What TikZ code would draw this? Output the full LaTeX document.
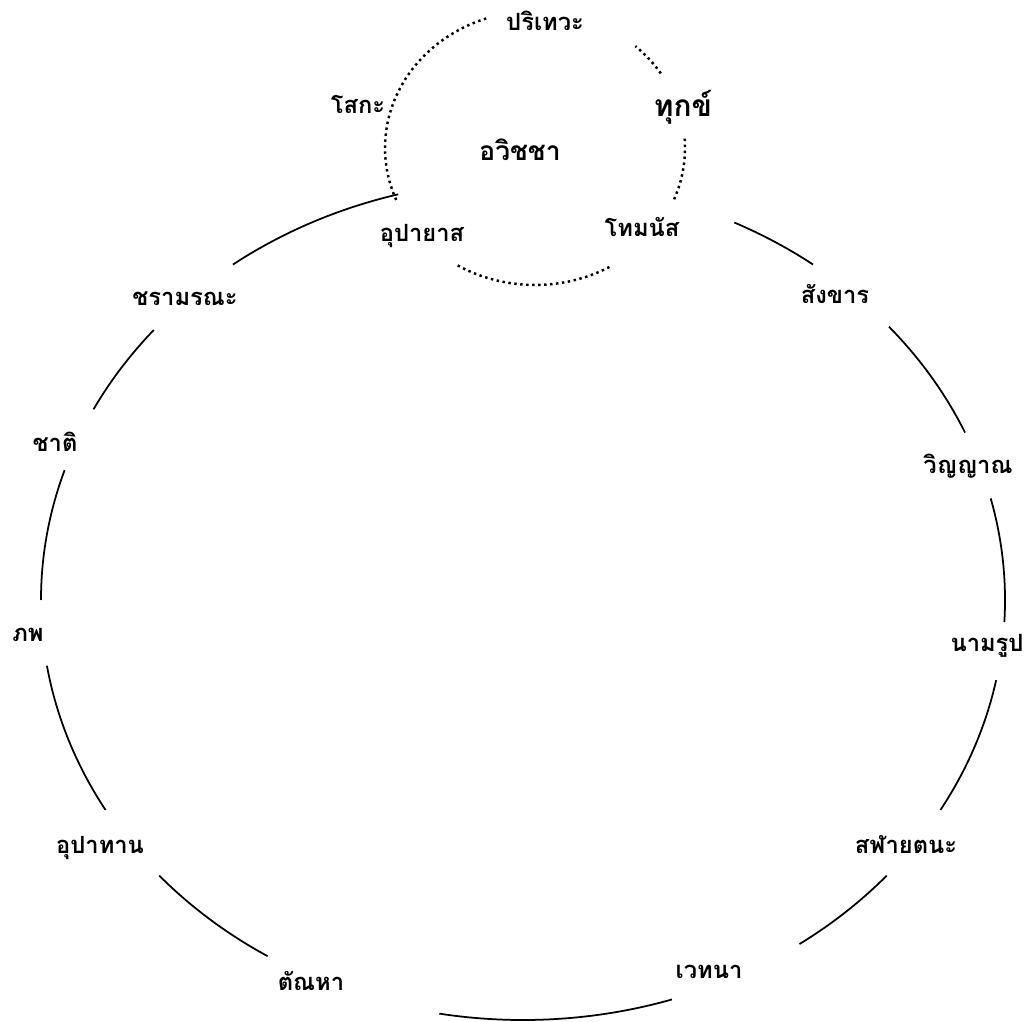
\documentclass[tikz,border=0pt]{standalone}
\usepackage{fontspec}
\newfontfamily\thaifont[Script=Thai]{Loma}

\tikzset{
  term/.style={font=\thaifont\bfseries\fontsize{13.5}{16}\selectfont,
    inner sep=1pt, text height=1ex, text depth=0pt},
  mainterm/.style={term, font=\thaifont\bfseries\fontsize{15}{18}\selectfont},
  bigterm/.style={term, font=\thaifont\bfseries\fontsize{17}{20}\selectfont},
  wheel/.style={line width=1pt},
  inner wheel/.style={line width=1.4pt, dotted}
}

\begin{document}
\begin{tikzpicture}[x=0.02cm, y=0.02cm]

\useasboundingbox (0,0) rectangle (1026,1021);

% centres of the two rings
\coordinate (big) at (523,421);
\coordinate (small) at (535,873);

% inner ring
\node[mainterm] (avijja) at (520,864) {อวิชชา};
\node[term] (parideva) at (545,994) {ปริเทวะ};
\node[term] (soka) at (358,911) {โสกะ};
\node[bigterm] (dukkha) at (683,908) {ทุกข์};
\node[term] (upayasa) at (422,783) {อุปายาส};
\node[term] (domanassa) at (642,788) {โทมนัส};

% outer ring
\node[term] (sankhara) at (835,721) {สังขาร};
\node[term] (vinnana) at (968,551) {วิญญาณ};
\node[term] (namarupa) at (987,373) {นามรูป};
\node[term] (salayatana) at (906,171) {สฬายตนะ};
\node[term] (vedana) at (709,46) {เวทนา};
\node[term] (tanha) at (311,34) {ตัณหา};
\node[term] (upadana) at (100,171) {อุปาทาน};
\node[term] (bhava) at (28,383) {ภพ};
\node[term] (jati) at (55,573) {ชาติ};
\node[term] (jaramarana) at (185,719) {ชรามรณะ};

% outer arcs between the terms
\foreach \a/\b in {105/127, 140/153, 162/180, 189/210, 221/238, 260/288,
                   305/319, 330/349, -3/14, 23.5/40.6, 53/64}
  \draw[wheel] ([shift={(\a:482 and 420)}]big)
    arc[start angle=\a, end angle=\b, x radius=482, y radius=420];

% dotted arcs round avijja
\foreach \a/\b in {109/203, 33/48, -22/5, 239/301}
  \draw[inner wheel] ([shift={(\a:150 and 137)}]small)
    arc[start angle=\a, end angle=\b, x radius=150, y radius=137];

\end{tikzpicture}
\end{document}
